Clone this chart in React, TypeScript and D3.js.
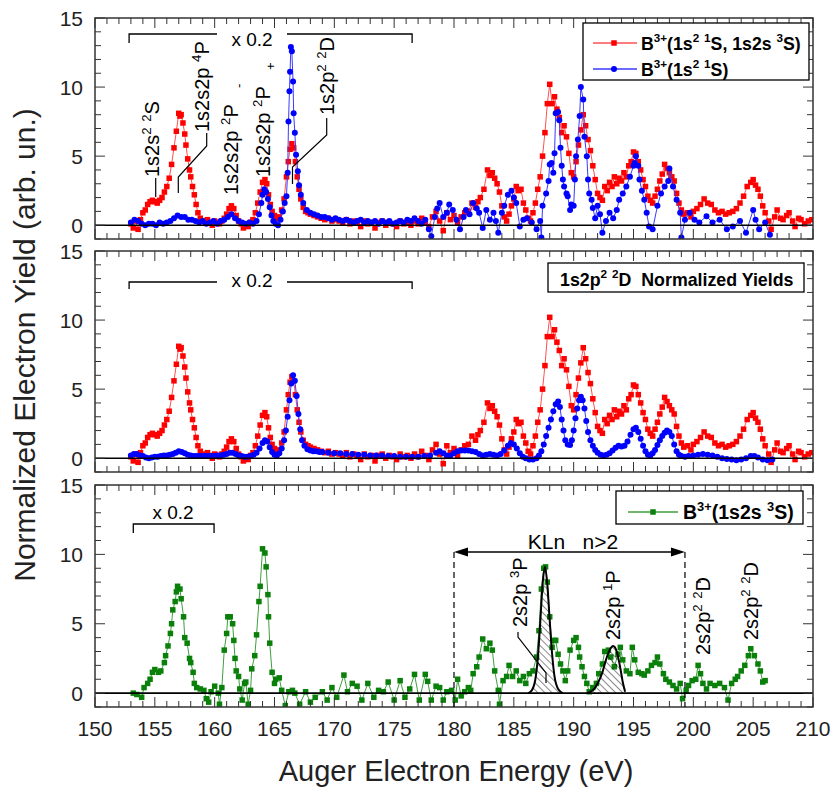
import React from 'react';
import * as d3 from 'd3';

// constants
const W = 832;
const H = 787;
const plotLeft = 95;
const plotRight = 813;
const panels = [
  { top: 18, bottom: 239 },
  { top: 251, bottom: 472 },
  { top: 485, bottom: 707 },
];
const font = "'Liberation Sans', Arial, Helvetica, sans-serif";

const xDomain = [150, 210];
const yDomain = [-1, 15];
const xMajorTicks = [150, 155, 160, 165, 170, 175, 180, 185, 190, 195, 200, 205, 210];
const yMajorTicks = [0, 5, 10, 15];

// B3+(1s2 1S, 1s2s 3S) yield, [energy eV, yield]
const mixedYield: [number, number][] = [
  [153.0, 0.1], [153.2, -0.2], [153.4, 0.3], [153.6, -0.3], [153.8, 0.4], [154.0, 0.9], [154.2, 1.1], [154.4, 1.5],
  [154.6, 1.7], [154.8, 1.8], [155.0, 1.7], [155.2, 1.6], [155.4, 1.8], [155.6, 2.0], [155.8, 2.4], [156.0, 2.8],
  [156.2, 3.4], [156.4, 4.4], [156.6, 5.6], [156.8, 6.8], [157.0, 8.1], [157.1, 7.9], [157.2, 8.0], [157.35, 7.4],
  [157.5, 6.6], [157.6, 5.8], [157.75, 4.8], [157.9, 4.0], [158.0, 3.5], [158.15, 2.8], [158.3, 2.2], [158.45, 1.5],
  [158.6, 0.9], [158.8, 0.5], [159.0, 0.3], [159.2, 0.2], [159.4, 0.4], [159.6, 0.2], [159.8, 0.0], [160.0, 0.3],
  [160.2, 0.2], [160.4, 0.1], [160.6, 0.3], [160.8, 0.5], [161.0, 0.8], [161.2, 1.2], [161.4, 1.4], [161.6, 1.2],
  [161.8, 0.7], [162.0, 0.3], [162.2, 0.1], [162.4, -0.2], [162.6, 0.1], [162.8, -0.1], [163.0, 0.2], [163.2, 0.4],
  [163.4, 0.9], [163.6, 1.6], [163.8, 2.4], [164.0, 3.1], [164.2, 3.3], [164.35, 3.0], [164.5, 2.2], [164.65, 1.5],
  [164.8, 1.0], [165.0, 0.7], [165.2, 0.5], [165.4, 0.6], [165.6, 1.1], [165.8, 1.9], [166.0, 3.5], [166.15, 4.6],
  [166.3, 5.5], [166.45, 5.9], [166.6, 5.6], [166.75, 4.6], [166.9, 3.5], [167.05, 2.6], [167.2, 1.9], [167.4, 1.3],
  [167.6, 1.0], [167.8, 0.9], [168.0, 0.8], [168.3, 0.7], [168.6, 0.6], [168.9, 0.5], [169.2, 0.4], [169.5, 0.5],
  [169.8, 0.3], [170.1, 0.4], [170.4, 0.3], [170.7, 0.2], [171.0, 0.4], [171.3, 0.1], [171.6, 0.3], [171.9, 0.2],
  [172.2, -0.1], [172.5, 0.3], [172.8, 0.1], [173.1, 0.2], [173.4, -0.2], [173.7, 0.2], [174.0, 0.3], [174.3, 0.0],
  [174.6, 0.2], [174.9, 0.1], [175.2, -0.1], [175.5, 0.3], [175.8, 0.1], [176.1, 0.2], [176.4, 0.0], [176.7, 0.3],
  [177.0, 0.1], [177.3, 0.5], [177.6, 0.2], [177.9, -0.1], [178.2, 0.6], [178.5, 1.0], [178.8, 0.3], [179.1, -0.4],
  [179.4, 0.9], [179.7, 0.4], [180.0, 0.7], [180.3, 0.2], [180.6, 0.6], [180.9, 0.9], [181.2, 1.0], [181.5, 1.6],
  [181.8, 1.3], [182.0, 1.7], [182.2, 2.0], [182.5, 2.6], [182.8, 4.0], [183.0, 3.6], [183.2, 3.8], [183.4, 3.4],
  [183.6, 3.0], [183.8, 2.4], [184.0, 1.4], [184.2, 0.6], [184.4, 0.3], [184.6, 0.8], [184.8, 1.4], [185.0, 1.9],
  [185.2, 2.8], [185.4, 2.5], [185.6, 2.6], [185.8, 1.6], [186.0, 1.1], [186.2, 0.5], [186.4, 0.3], [186.6, 0.9],
  [186.8, 1.6], [187.0, 2.6], [187.2, 3.5], [187.4, 5.0], [187.6, 6.7], [187.8, 8.8], [188.0, 10.2], [188.2, 8.8],
  [188.4, 9.3], [188.6, 8.4], [188.8, 7.8], [189.0, 6.7], [189.2, 7.2], [189.4, 6.4], [189.6, 5.2], [189.8, 3.8],
  [190.0, 3.5], [190.2, 4.6], [190.4, 5.8], [190.6, 6.9], [190.8, 8.0], [191.0, 7.2], [191.2, 6.2], [191.4, 5.4],
  [191.6, 4.3], [191.8, 3.3], [192.0, 2.3], [192.2, 2.0], [192.4, 1.8], [192.6, 2.8], [192.8, 2.5], [193.0, 3.1],
  [193.2, 2.8], [193.4, 3.5], [193.6, 3.0], [193.8, 3.4], [194.0, 3.2], [194.2, 3.8], [194.4, 3.5], [194.6, 4.3],
  [194.8, 4.6], [195.0, 5.3], [195.2, 5.2], [195.4, 4.6], [195.6, 4.0], [195.8, 3.3], [196.0, 2.8], [196.2, 2.1],
  [196.4, 1.8], [196.6, 1.6], [196.8, 2.1], [197.0, 2.6], [197.2, 3.2], [197.4, 3.7], [197.6, 4.4], [197.8, 4.1],
  [198.0, 3.8], [198.2, 3.5], [198.4, 3.2], [198.6, 2.3], [198.8, 1.6], [199.0, 1.1], [199.2, 0.8], [199.5, 0.9],
  [199.8, 0.6], [200.0, 1.0], [200.3, 1.2], [200.6, 1.5], [200.9, 1.9], [201.2, 1.6], [201.5, 1.5], [201.8, 1.1],
  [202.1, 0.9], [202.4, 1.0], [202.7, 0.8], [203.0, 0.9], [203.3, 1.0], [203.6, 1.2], [203.9, 1.6], [204.2, 2.1],
  [204.5, 2.8], [204.8, 3.1], [205.0, 3.3], [205.2, 2.9], [205.4, 2.6], [205.6, 2.1], [205.8, 1.4], [206.0, 0.9],
  [206.3, 0.3], [206.5, -0.3], [206.8, 0.6], [207.0, 1.1], [207.3, 0.5], [207.5, 0.4], [207.8, 0.7], [208.0, 0.9],
  [208.3, 0.3], [208.5, -0.1], [208.8, 0.5], [209.0, 0.4], [209.3, 0.1], [209.6, 0.3], [209.9, 0.4],
];

// B3+(1s2 1S) yield, top panel
const groundYield: [number, number][] = [
  [153.0, 0.2], [153.3, 0.4], [153.6, 0.3], [153.9, 0.1], [154.2, 0.0], [154.5, 0.1], [154.8, 0.1], [155.1, 0.0],
  [155.4, 0.2], [155.7, 0.1], [156.0, 0.2], [156.3, 0.3], [156.6, 0.5], [156.9, 0.7], [157.2, 0.6], [157.5, 0.6],
  [157.8, 0.4], [158.1, 0.4], [158.4, 0.3], [158.7, 0.2], [159.0, 0.3], [159.3, 0.1], [159.6, 0.2], [159.9, 0.3],
  [160.2, 0.1], [160.5, 0.3], [160.8, 0.4], [161.1, 0.6], [161.4, 0.8], [161.7, 0.5], [162.0, 0.3], [162.3, 0.2],
  [162.6, 0.1], [162.9, 0.2], [163.2, 0.1], [163.5, 0.3], [163.7, 0.8], [163.9, 1.6], [164.0, 2.2], [164.15, 2.6],
  [164.3, 2.4], [164.45, 1.9], [164.6, 1.3], [164.75, 0.7], [164.9, 0.3], [165.1, 0.1], [165.3, 0.0], [165.5, 0.4],
  [165.7, 1.0], [165.85, 1.6], [166.0, 2.1], [166.1, 3.8], [166.17, 7.5], [166.25, 9.7], [166.3, 11.1], [166.37, 12.9],
  [166.45, 12.6], [166.55, 10.4], [166.6, 8.1], [166.7, 6.7], [166.8, 5.1], [166.95, 3.9], [167.05, 2.9], [167.2, 2.2],
  [167.4, 1.6], [167.7, 1.1], [168.0, 0.9], [168.3, 0.8], [168.6, 0.7], [168.9, 0.6], [169.2, 0.6], [169.5, 0.5],
  [169.8, 0.4], [170.1, 0.5], [170.4, 0.4], [170.7, 0.3], [171.0, 0.4], [171.3, 0.3], [171.6, 0.2], [171.9, 0.3],
  [172.2, 0.4], [172.5, 0.2], [172.8, 0.3], [173.1, 0.2], [173.4, 0.3], [173.7, 0.1], [174.0, 0.3], [174.3, 0.2],
  [174.6, 0.3], [174.9, 0.1], [175.2, 0.2], [175.5, 0.3], [175.8, 0.2], [176.1, 0.4], [176.4, 0.3], [176.7, 0.5],
  [177.0, 0.3], [177.3, 0.1], [177.6, 0.4], [177.9, -0.3], [178.1, -0.8], [178.4, 0.6], [178.6, 1.2], [178.8, 1.6],
  [179.1, 0.6], [179.4, 0.9], [179.6, 1.5], [179.9, 1.1], [180.2, 0.4], [180.5, -0.3], [180.8, 0.6], [181.0, 1.1],
  [181.3, 0.8], [181.6, 1.6], [181.9, 1.2], [182.1, 0.9], [182.4, -0.2], [182.7, 1.1], [183.0, 0.4], [183.3, 0.9],
  [183.5, 0.3], [183.7, -0.55], [184.0, 0.9], [184.2, 1.4], [184.5, 2.2], [184.8, 2.5], [185.0, 2.0], [185.2, 1.6],
  [185.5, -0.1], [185.8, 0.4], [186.1, 0.5], [186.5, 0.2], [186.9, -0.3], [187.2, 0.3], [187.3, -0.9], [187.4, 1.4],
  [187.7, 2.3], [187.9, 3.2], [188.0, 4.4], [188.15, 4.5], [188.3, 3.8], [188.4, 5.2], [188.5, 8.1], [188.7, 8.2],
  [188.8, 7.6], [188.9, 5.6], [189.0, 4.3], [189.1, 3.3], [189.2, 2.8], [189.4, 2.3], [189.5, 2.1], [189.7, 1.1],
  [189.8, 1.5], [190.0, 1.4], [190.1, 3.3], [190.2, 5.0], [190.35, 6.2], [190.5, 7.9], [190.6, 10.0], [190.8, 9.1],
  [190.9, 6.4], [191.1, 5.0], [191.2, 3.3], [191.3, 2.3], [191.5, 1.85], [191.6, 1.25], [191.8, 0.5], [192.0, 1.4],
  [192.2, 0.8], [192.4, -0.55], [192.7, 0.3], [193.0, 0.9], [193.3, 0.5], [193.6, 1.1], [193.8, 1.85], [194.1, 2.3],
  [194.4, 2.8], [194.7, 3.5], [195.0, 4.3], [195.1, 4.5], [195.2, 5.0], [195.4, 4.3], [195.5, 3.3], [195.7, 2.5],
  [195.9, 1.85], [196.1, 0.9], [196.3, -0.1], [196.6, -0.3], [197.0, 1.4], [197.3, 2.3], [197.6, 2.8], [197.9, 3.2],
  [198.0, 4.1], [198.3, 2.8], [198.6, 1.85], [198.9, 0.9], [199.0, -0.9], [199.3, 0.4], [199.7, 0.9], [200.1, 0.4],
  [200.5, 0.2], [201.1, 0.65], [201.6, 0.2], [202.2, 0.4], [202.8, -0.3], [203.3, -0.1], [203.9, 0.3], [204.4, -0.55],
  [205.0, 1.1], [205.2, 0.4], [205.5, -0.3], [206.0, 0.2], [206.4, -0.7],
];

// 1s2p2 2D normalized B3+(1s2 1S) yield, middle panel
const groundNormYield: [number, number][] = [
  [153.0, 0.2], [153.25, 0.3], [153.5, 0.3], [153.75, 0.2], [154.0, 0.15], [154.25, 0.05], [154.5, 0.0], [154.75, 0.05],
  [155.0, 0.1], [155.25, 0.1], [155.5, 0.15], [155.75, 0.2], [156.0, 0.2], [156.25, 0.25], [156.5, 0.3], [156.75, 0.4],
  [157.0, 0.5], [157.25, 0.45], [157.5, 0.35], [157.75, 0.25], [158.0, 0.2], [158.25, 0.15], [158.5, 0.15], [158.75, 0.15],
  [159.0, 0.15], [159.25, 0.15], [159.5, 0.15], [159.75, 0.15], [160.0, 0.15], [160.25, 0.2], [160.5, 0.2], [160.75, 0.25],
  [161.0, 0.3], [161.25, 0.4], [161.5, 0.4], [161.75, 0.3], [162.0, 0.2], [162.25, 0.15], [162.5, 0.1], [162.75, 0.1],
  [163.0, 0.15], [163.25, 0.25], [163.5, 0.4], [163.75, 0.7], [164.0, 1.1], [164.2, 1.3], [164.4, 1.2], [164.6, 0.8],
  [164.8, 0.45], [165.0, 0.25], [165.2, 0.2], [165.4, 0.35], [165.6, 0.7], [165.8, 1.3], [165.95, 2.0], [166.1, 3.0],
  [166.25, 4.2], [166.4, 5.4], [166.55, 6.0], [166.7, 5.6], [166.85, 4.5], [167.0, 3.2], [167.15, 2.1], [167.3, 1.3],
  [167.5, 0.9], [167.75, 0.65], [168.0, 0.55], [168.25, 0.5], [168.5, 0.5], [168.75, 0.45], [169.0, 0.45], [169.5, 0.4],
  [170.0, 0.35], [170.5, 0.35], [171.0, 0.3], [171.5, 0.3], [172.0, 0.25], [172.5, 0.25], [173.0, 0.2], [173.5, 0.2],
  [174.0, 0.2], [174.5, 0.15], [175.0, 0.15], [175.5, 0.1], [176.0, 0.1], [176.5, 0.1], [177.0, 0.1], [177.5, 0.15],
  [178.0, 0.2], [178.5, 0.4], [178.8, 0.5], [179.1, 0.35], [179.4, 0.2], [179.7, 0.2], [180.0, 0.35], [180.3, 0.5],
  [180.6, 0.55], [180.9, 0.55], [181.2, 0.55], [181.5, 0.5], [181.8, 0.45], [182.1, 0.3], [182.4, 0.2], [182.7, 0.25],
  [183.0, 0.3], [183.3, 0.25], [183.6, 0.2], [183.9, 0.3], [184.2, 0.55], [184.5, 0.9], [184.75, 1.1], [185.0, 1.0],
  [185.25, 0.7], [185.5, 0.35], [185.75, 0.1], [186.0, 0.0], [186.3, -0.1], [186.6, -0.1], [186.9, 0.0], [187.1, 0.2],
  [187.3, 0.5], [187.5, 1.0], [187.7, 1.6], [187.9, 2.2], [188.1, 2.8], [188.3, 3.4], [188.5, 3.9], [188.7, 4.1],
  [188.85, 3.7], [189.0, 2.8], [189.15, 2.0], [189.3, 1.3], [189.5, 1.0], [189.7, 0.95], [189.85, 1.3], [190.0, 2.0],
  [190.15, 2.9], [190.3, 3.6], [190.45, 4.2], [190.6, 4.45], [190.75, 4.2], [190.9, 3.6], [191.05, 2.7], [191.2, 1.9],
  [191.4, 1.3], [191.6, 0.9], [191.8, 0.6], [192.0, 0.4], [192.25, 0.25], [192.5, 0.2], [192.75, 0.25], [193.0, 0.35],
  [193.25, 0.55], [193.5, 0.75], [193.75, 0.9], [194.0, 0.85], [194.25, 0.9], [194.5, 1.2], [194.75, 1.7], [195.0, 2.1],
  [195.2, 2.2], [195.4, 1.9], [195.6, 1.4], [195.8, 0.9], [196.0, 0.5], [196.2, 0.25], [196.4, 0.2], [196.6, 0.35],
  [196.8, 0.6], [197.0, 0.95], [197.2, 1.3], [197.4, 1.6], [197.6, 1.85], [197.8, 2.0], [198.0, 1.9], [198.2, 1.6],
  [198.4, 1.0], [198.6, 0.5], [198.8, 0.25], [199.0, 0.15], [199.3, 0.1], [199.6, 0.15], [200.0, 0.2], [200.4, 0.25],
  [200.8, 0.3], [201.2, 0.25], [201.6, 0.2], [202.0, 0.1], [202.4, 0.0], [202.8, -0.05], [203.2, -0.1], [203.6, -0.15],
  [204.0, -0.1], [204.4, 0.0], [204.8, 0.15], [205.1, 0.15], [205.4, 0.05], [205.8, -0.1], [206.2, -0.15], [206.6, -0.1],
];

// B3+(1s2s 3S) yield, bottom panel
const metaYield: [number, number][] = [
  [153.2, 0.0], [153.5, -0.1], [153.9, -0.3], [154.1, 0.4], [154.4, 0.7], [154.6, 1.0], [154.8, 1.5], [155.0, 1.7],
  [155.3, 1.5], [155.5, 1.6], [155.8, 2.2], [155.9, 2.7], [156.1, 3.4], [156.3, 4.3], [156.4, 5.0], [156.5, 6.0],
  [156.7, 6.6], [156.8, 7.3], [156.9, 7.7], [157.1, 7.5], [157.2, 6.8], [157.4, 5.5], [157.5, 4.0], [157.7, 3.6],
  [157.9, 2.5], [158.0, 2.2], [158.2, 1.5], [158.3, 0.7], [158.5, 0.4], [158.8, 0.3], [159.1, 0.2], [159.3, -0.4],
  [159.5, -0.65], [159.7, 0.1], [160.0, 0.5], [160.3, 0.0], [160.4, -0.8], [160.6, 0.4], [160.8, 3.1], [161.0, 4.3],
  [161.1, 5.5], [161.3, 5.5], [161.5, 5.0], [161.6, 3.8], [161.7, 2.5], [161.8, 1.6], [162.0, 1.2], [162.1, 0.3],
  [162.3, -0.5], [162.5, 0.7], [162.6, 0.8], [162.8, -0.8], [163.0, 0.2], [163.1, 1.75], [163.35, 2.7], [163.5, 4.2],
  [163.7, 6.6], [163.8, 7.7], [164.0, 10.4], [164.2, 10.1], [164.3, 9.1], [164.45, 7.1], [164.5, 5.5], [164.6, 3.6],
  [164.8, 1.5], [165.0, 0.7], [165.1, 1.0], [165.4, 1.1], [165.6, 0.2], [165.9, -0.9], [166.2, 0.1], [166.5, 0.2],
  [166.7, 0.0], [167.1, -0.8], [167.6, 0.1], [168.0, -0.65], [168.4, -0.3], [169.0, 0.1], [169.4, -0.5], [169.8, 0.4],
  [170.2, -0.3], [170.8, 1.3], [171.1, 0.1], [171.5, 0.7], [171.9, 0.5], [172.3, -0.5], [172.8, 0.7], [173.3, -0.3],
  [173.7, 0.2], [174.1, 0.1], [174.5, 0.8], [175.0, -0.5], [175.5, 0.9], [175.9, -0.3], [176.3, 0.3], [176.7, 1.35],
  [177.1, -0.5], [177.6, 1.35], [177.8, 0.85], [178.1, -0.5], [178.5, 0.5], [178.8, 0.4], [179.1, -0.5], [179.4, 0.1],
  [179.8, 0.2], [180.1, -0.5], [180.3, 1.0], [180.6, -0.2], [180.9, 0.1], [181.2, 0.4], [181.4, 0.2], [181.6, 1.4],
  [181.9, 1.9], [182.1, 2.6], [182.4, 3.9], [182.7, 3.2], [183.0, 3.6], [183.2, 3.1], [183.4, 1.6], [183.7, 0.2],
  [183.8, -0.8], [184.1, 0.9], [184.4, 1.2], [184.6, 2.0], [184.9, 1.2], [185.2, 1.6], [185.5, 0.9], [185.8, 1.2],
  [186.0, 0.7], [186.3, 1.4], [186.6, 1.6], [186.9, 2.6], [187.1, 4.5], [187.3, 7.5], [187.5, 9.0], [187.65, 9.1],
  [187.8, 8.0], [188.0, 5.5], [188.2, 3.3], [188.4, 3.8], [188.5, 3.8], [188.7, 2.8], [188.9, 2.1], [189.1, 1.6],
  [189.3, 0.9], [189.5, 1.6], [189.7, 3.1], [190.0, 3.8], [190.2, 4.0], [190.4, 3.3], [190.5, 2.6], [190.7, 1.9],
  [190.9, 1.2], [191.1, 0.7], [191.3, 0.1], [191.6, 0.4], [191.9, 0.7], [192.1, 1.4], [192.4, 2.1], [192.6, 3.0],
  [192.9, 3.1], [193.1, 2.6], [193.4, 1.9], [193.7, 2.8], [193.9, 3.3], [194.1, 2.4], [194.4, 1.6], [194.7, 1.4],
  [194.9, 3.3], [195.1, 2.4], [195.4, 1.5], [195.7, 1.4], [195.9, 1.3], [196.2, 1.6], [196.5, 2.0], [196.8, 2.2],
  [197.0, 2.6], [197.2, 2.1], [197.5, 1.4], [197.7, 1.0], [198.0, 0.8], [198.3, 0.55], [198.6, 0.3], [198.9, 0.7],
  [199.1, -0.4], [199.4, 0.2], [199.6, 0.55], [199.9, 0.9], [200.2, 1.0], [200.4, 2.0], [200.6, 1.4], [200.8, 0.7],
  [201.1, 0.3], [201.4, 0.7], [201.8, 0.55], [202.2, 0.7], [202.6, 0.4], [202.9, -0.5], [203.2, 0.7], [203.5, 1.0],
  [203.7, 1.2], [204.0, 1.6], [204.3, 2.0], [204.6, 2.7], [204.8, 3.2], [205.1, 2.7], [205.4, 2.1], [205.6, 1.6],
  [205.8, 0.8], [206.0, 0.9],
];

// fitted 2s2p 3P and 2s2p 1P peaks (hatched)
const fit3P: [number, number][] = [
  [186.2, 0.0], [186.5, 0.2], [186.8, 1.0], [187.0, 2.5], [187.2, 5.0], [187.4, 7.8], [187.6, 9.1],
  [187.8, 7.8], [188.0, 5.2], [188.2, 2.8], [188.4, 1.2], [188.7, 0.3], [189.1, 0.0],
];
const fit1P: [number, number][] = [
  [191.1, 0.0], [191.6, 0.2], [192.0, 0.7], [192.4, 1.5], [192.7, 2.4], [193.0, 3.1], [193.3, 3.4],
  [193.6, 3.0], [193.9, 1.8], [194.1, 0.8], [194.3, 0.1],
];

type Part = [string, 'n' | 'sup' | 'sub'];

// text with superscripts / subscripts done with tspans
const Rich = ({ x, y, parts, size, rotate = false, anchor = 'start', bold = false }:
  { x: number; y: number; parts: Part[]; size: number; rotate?: boolean; anchor?: string; bold?: boolean }) => {
  const shift = { n: 0, sup: -0.42 * size, sub: 0.25 * size };
  let cur = 0;
  const spans = parts.map(([t, k], i) => {
    const dy = shift[k] - cur;
    cur = shift[k];
    return <tspan key={i} dy={dy} fontSize={k === 'n' ? size : size * 0.66}>{t}</tspan>;
  });
  return (
    <text x={0} y={0} transform={`translate(${x},${y})${rotate ? ' rotate(-90)' : ''}`}
      textAnchor={anchor} fontFamily={font} fontSize={size} fontWeight={bold ? 'bold' : 'normal'} fill="#000"
      style={{ whiteSpace: 'pre' }}>
      {spans}
    </text>
  );
};

const Series = ({ data, x, y, marker, line, shape, size }: any) => {
  const path = d3.line<[number, number]>().x(d => x(d[0])).y(d => y(d[1]))(data) || '';
  return (
    <g>
      <path d={path} fill="none" stroke={line} strokeWidth={1} />
      {data.map((d: [number, number], i: number) => shape === 'circle'
        ? <circle key={i} cx={x(d[0])} cy={y(d[1])} r={size / 2} fill={marker} />
        : <rect key={i} x={x(d[0]) - size / 2} y={y(d[1]) - size / 2} width={size} height={size} fill={marker} />)}
    </g>
  );
};

const Bracket = ({ x1, x2, y, drop, gap }: { x1: number; x2: number; y: number; drop: number; gap?: [number, number] }) => (
  <path d={gap
    ? `M${x1},${y + drop}V${y}H${gap[0]}M${gap[1]},${y}H${x2}V${y + drop}`
    : `M${x1},${y + drop}V${y}H${x2}V${y + drop}`} fill="none" stroke="#000" strokeWidth={1.3} />
);

const App = () => {
  const x = d3.scaleLinear().domain(xDomain).range([plotLeft, plotRight]);
  const ys = panels.map(p => d3.scaleLinear().domain(yDomain).range([p.bottom, p.top]));
  const minorX = x.ticks(60);
  const minorY = ys[0].ticks(16);

  const red = { marker: '#ff0000', line: '#ff5050', shape: 'rect', size: 5.5 };
  const blue = { marker: '#0000ff', line: '#3a3aff', shape: 'circle', size: 6 };
  const green = { marker: '#0a800a', line: '#3f9f3f', shape: 'rect', size: 5.5 };

  const frame = (i: number) => {
    const p = panels[i];
    const y = ys[i];
    return (
      <g key={`f${i}`}>
        <line x1={plotLeft} x2={plotRight} y1={y(0)} y2={y(0)} stroke="#000" strokeWidth={1.6} />
        {minorX.map(t => {
          const len = xMajorTicks.includes(t) ? 10 : 6;
          return (
            <g key={`x${t}`} stroke="#333" strokeWidth={1}>
              <line x1={x(t)} x2={x(t)} y1={p.bottom} y2={p.bottom - len} />
              <line x1={x(t)} x2={x(t)} y1={p.top} y2={p.top + len} />
            </g>
          );
        })}
        {minorY.map(t => {
          const len = yMajorTicks.includes(t) ? 10 : 6;
          return (
            <g key={`y${t}`} stroke="#333" strokeWidth={1}>
              <line x1={plotLeft} x2={plotLeft + len} y1={y(t)} y2={y(t)} />
              <line x1={plotRight} x2={plotRight - len} y1={y(t)} y2={y(t)} />
            </g>
          );
        })}
        {yMajorTicks.map(t => (
          <text key={`yl${t}`} x={83} y={y(t) + 7.5} textAnchor="end" fontFamily={font} fontSize={21} fill="#222">{t}</text>
        ))}
        <rect x={plotLeft} y={p.top} width={plotRight - plotLeft} height={p.bottom - p.top}
          fill="none" stroke="#333" strokeWidth={1.5} />
      </g>
    );
  };

  const hatchArea = (data: [number, number][]) => {
    const y = ys[2];
    const area = d3.area<[number, number]>().x(d => x(d[0])).y0(y(0)).y1(d => y(d[1])).curve(d3.curveMonotoneX)(data) || '';
    const line = d3.line<[number, number]>().x(d => x(d[0])).y(d => y(d[1])).curve(d3.curveMonotoneX)(data) || '';
    return (
      <g>
        <path d={area} fill="url(#hatch)" stroke="none" />
        <path d={line} fill="none" stroke="#000" strokeWidth={2} />
      </g>
    );
  };

  const legendLine = (lx: number, ly: number, s: any) => (
    <g>
      <line x1={lx} x2={lx + 44} y1={ly} y2={ly} stroke={s.line} strokeWidth={1.3} />
      {s.shape === 'circle'
        ? <circle cx={lx + 21} cy={ly} r={s.size / 2} fill={s.marker} />
        : <rect x={lx + 21 - s.size / 2} y={ly - s.size / 2} width={s.size} height={s.size} fill={s.marker} />}
    </g>
  );

  return (
    <svg width={W} height={H} style={{ position: 'absolute', left: 0, top: 0, background: '#fff' }}>
      <defs>
        {panels.map((p, i) => (
          <clipPath key={i} id={`clip${i}`}>
            <rect x={plotLeft} y={p.top} width={plotRight - plotLeft} height={p.bottom - p.top} />
          </clipPath>
        ))}
        <pattern id="hatch" width={5} height={5} patternUnits="userSpaceOnUse" patternTransform="rotate(-45)">
          <line x1={0} y1={0} x2={0} y2={5} stroke="#000" strokeWidth={0.9} />
        </pattern>
      </defs>

      {/* top panel */}
      <g clipPath="url(#clip0)">
        <Series data={mixedYield} x={x} y={ys[0]} {...red} />
        <Series data={groundYield} x={x} y={ys[0]} {...blue} />
      </g>
      {/* middle panel */}
      <g clipPath="url(#clip1)">
        <Series data={mixedYield} x={x} y={ys[1]} {...red} />
        <Series data={groundNormYield} x={x} y={ys[1]} {...blue} />
      </g>
      {/* bottom panel */}
      <g clipPath="url(#clip2)">
        <Series data={metaYield} x={x} y={ys[2]} {...green} />
        {hatchArea(fit3P)}
        {hatchArea(fit1P)}
      </g>

      {[0, 1, 2].map(frame)}

      {/* x tick labels */}
      {xMajorTicks.map(t => (
        <text key={t} x={x(t)} y={736} textAnchor="middle" fontFamily={font} fontSize={21} fill="#222">{t}</text>
      ))}
      <text x={456} y={781} textAnchor="middle" fontFamily={font} fontSize={29} fill="#222">Auger Electron Energy (eV)</text>
      <text transform="translate(35,345) rotate(-90)" textAnchor="middle" fontFamily={font} fontSize={30} fill="#222">
        Normalized Electron Yield (arb. un.)
      </text>

      {/* top panel annotations */}
      <Bracket x1={x(152.85)} x2={x(176.5)} y={34} drop={9} gap={[217, 287]} />
      <text x={252} y={46} textAnchor="middle" fontFamily={font} fontSize={19}>x 0.2</text>
      <Rich x={159} y={177} rotate size={20} parts={[['1s2s', 'n'], ['2', 'sup'], [' ', 'n'], ['2', 'sup'], ['S', 'n']]} />
      <Rich x={209} y={132} rotate size={20} parts={[['1s2s2p ', 'n'], ['4', 'sup'], ['P', 'n']]} />
      <Rich x={238} y={195} rotate size={20} parts={[['1s2s2p ', 'n'], ['2', 'sup'], ['P   ', 'n'], ['-', 'sub']]} />
      <Rich x={270} y={177} rotate size={20} parts={[['1s2s2p ', 'n'], ['2', 'sup'], ['P   ', 'n'], ['+', 'sub']]} />
      <Rich x={334} y={115} rotate size={20} parts={[['1s2p', 'n'], ['2', 'sup'], [' ', 'n'], ['2', 'sup'], ['D', 'n']]} />
      <g fill="none" stroke="#000" strokeWidth={1.2}>
        <path d="M155.7,178V197" />
        <path d="M206.7,133V146L178.3,177V193" />
        <path d="M326.7,118V135L292.5,167V184" />
      </g>
      <rect x={583} y={23} width={226} height={57} fill="#fff" stroke="#000" strokeWidth={1.3} />
      {legendLine(593, 43, red)}
      <Rich x={641} y={49.5} size={17.7} bold
        parts={[['B', 'n'], ['3+', 'sup'], ['(1s', 'n'], ['2', 'sup'], [' ', 'n'], ['1', 'sup'], ['S, 1s2s ', 'n'], ['3', 'sup'], ['S)', 'n']]} />
      {legendLine(593, 69, blue)}
      <Rich x={641} y={75.5} size={17.7} bold
        parts={[['B', 'n'], ['3+', 'sup'], ['(1s', 'n'], ['2', 'sup'], [' ', 'n'], ['1', 'sup'], ['S)', 'n']]} />

      {/* middle panel annotations */}
      <Bracket x1={x(152.85)} x2={x(176.5)} y={282} drop={7} gap={[217, 287]} />
      <text x={252} y={287} textAnchor="middle" fontFamily={font} fontSize={19}>x 0.2</text>
      <rect x={548} y={263} width={256} height={29} fill="#fff" stroke="#000" strokeWidth={1.3} />
      <Rich x={560} y={285.5} size={17.8} bold
        parts={[['1s2p', 'n'], ['2', 'sup'], [' ', 'n'], ['2', 'sup'], ['D  Normalized Yields', 'n']]} />

      {/* bottom panel annotations */}
      <Bracket x1={x(153.2)} x2={x(159.95)} y={524} drop={9} />
      <text x={173} y={519} textAnchor="middle" fontFamily={font} fontSize={19}>x 0.2</text>
      <g stroke="#000" strokeWidth={1.2} strokeDasharray="6,4">
        <line x1={x(180)} x2={x(180)} y1={552} y2={707} />
        <line x1={x(199.3)} x2={x(199.3)} y1={552} y2={707} />
      </g>
      <line x1={x(180) + 10} x2={x(199.3) - 10} y1={552} y2={552} stroke="#000" strokeWidth={1.5} />
      <path d={`M${x(180)},552l14,-4.5v9z M${x(199.3)},552l-14,-4.5v9z`} fill="#000" />
      <text x={573} y={549} textAnchor="middle" fontFamily={font} fontSize={21} style={{ whiteSpace: 'pre' }}>KLn   n&gt;2</text>
      <Rich x={527} y={627} rotate size={20} parts={[['2s2p ', 'n'], ['3', 'sup'], ['P', 'n']]} />
      <Rich x={620} y={640} rotate size={20} parts={[['2s2p ', 'n'], ['1', 'sup'], ['P', 'n']]} />
      <Rich x={710} y={655} rotate size={20} parts={[['2s2p', 'n'], ['2', 'sup'], [' ', 'n'], ['2', 'sup'], ['D', 'n']]} />
      <line x1={696} x2={701} y1={582} y2={582} stroke="#000" strokeWidth={1.2} />
      <Rich x={758} y={640} rotate size={20} parts={[['2s2p', 'n'], ['2', 'sup'], [' ', 'n'], ['2', 'sup'], ['D', 'n']]} />
      <path d="M518,632V637L546,673V683" fill="none" stroke="#000" strokeWidth={1.2} />
      <rect x={616} y={491} width={187} height={33} fill="#fff" stroke="#000" strokeWidth={1.3} />
      <line x1={628} x2={678} y1={512} y2={512} stroke={green.line} strokeWidth={1.3} />
      <rect x={653 - 2.75} y={512 - 2.75} width={5.5} height={5.5} fill={green.marker} />
      <Rich x={683} y={519} size={19.5} bold
        parts={[['B', 'n'], ['3+', 'sup'], ['(1s2s ', 'n'], ['3', 'sup'], ['S)', 'n']]} />
    </svg>
  );
};

export default App;
